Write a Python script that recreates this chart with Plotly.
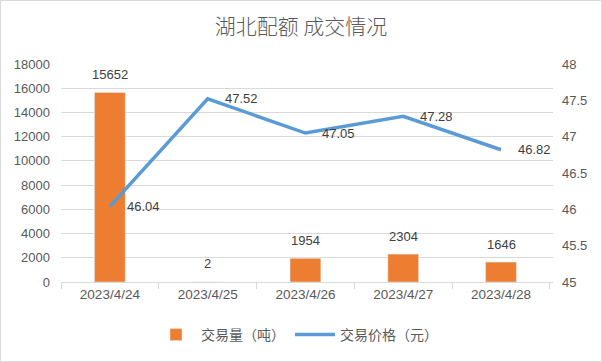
import plotly.graph_objects as go

dates = ["2023/4/24", "2023/4/25", "2023/4/26", "2023/4/27", "2023/4/28"]
volume = [15652, 2, 1954, 2304, 1646]
price = [46.04, 47.52, 47.05, 47.28, 46.82]
left_ticks = [0, 2000, 4000, 6000, 8000, 10000, 12000, 14000, 16000, 18000]
right_ticks = [45, 45.5, 46, 46.5, 47, 47.5, 48]

FONT = "Liberation Sans, Arial, Noto Sans CJK SC, sans-serif"
CJK = "Noto Sans CJK SC, sans-serif"
ORANGE = "#ED7D31"
BLUE = "#5B9BD5"
GRID = "#D9D9D9"
TXT = "#595959"
LBL = "#404040"

fig = go.Figure()
fig.add_trace(go.Bar(x=dates, y=volume, name="交易量（吨）", marker_color=ORANGE,
                     yaxis="y"))
fig.add_trace(go.Scatter(x=dates, y=price, name="交易价格（元）", mode="lines",
                         line=dict(color=BLUE, width=3.5), yaxis="y2"))

annotations = []
for d, v in zip(dates, volume):
    annotations.append(dict(x=d, y=v, xref="x", yref="y", text=str(v), showarrow=False,
                            xanchor="center", yanchor="middle", yshift=18,
                            font=dict(family=FONT, size=13, color=LBL)))
for d, p in zip(dates, price):
    annotations.append(dict(x=d, y=p, xref="x", yref="y2", text=f"{p:.2f}", showarrow=False,
                            xanchor="left", yanchor="middle", xshift=15,
                            font=dict(family=FONT, size=13, color=LBL)))

L, R, T, B = 61, 49, 64, 80
W, H = 602, 362
pw, ph = W - L - R, H - T - B

fig.update_layout(
    width=W, height=H,
    margin=dict(l=L, r=R, t=T, b=B, autoexpand=False),
    paper_bgcolor="white", plot_bgcolor="white",
    title=dict(text="湖北配额 成交情况", x=0.5, xanchor="center", y=1 - 27 / H, yanchor="middle",
               font=dict(family=CJK, size=21, color=TXT, weight=300)),
    bargap=0.685,
    showlegend=True,
    legend=dict(orientation="h", x=(297 - L) / pw, xanchor="center", y=-(335 - T - ph) / ph,
                yanchor="middle", font=dict(family=CJK, size=14, color=TXT),
                itemwidth=40, traceorder="normal"),
    xaxis=dict(type="category", showgrid=False, showline=True, linecolor=GRID, linewidth=1,
               ticks="outside", tickson="boundaries", ticklen=6, tickcolor=GRID,
               tickfont=dict(family=FONT, size=13.5, color=TXT)),
    yaxis=dict(range=[0, 18000], tickvals=left_ticks, ticktext=[str(v) for v in left_ticks],
               showgrid=True, gridcolor=GRID, gridwidth=1,
               zeroline=False, showline=False, ticks="", ticklabelstandoff=10,
               tickfont=dict(family=FONT, size=13, color=TXT)),
    yaxis2=dict(range=[45, 48], tickvals=right_ticks, ticktext=[f"{v:g}" for v in right_ticks],
                overlaying="y", side="right",
                showgrid=False, zeroline=False, showline=False, ticks="", ticklabelstandoff=8,
                tickfont=dict(family=FONT, size=13, color=TXT)),
    annotations=annotations,
    shapes=[dict(type="rect", xref="paper", yref="paper",
                 x0=-(L - 0.5) / pw, x1=(W - 0.5 - L) / pw,
                 y0=-(H - 0.5 - T - ph) / ph, y1=1 + (T - 0.5) / ph,
                 line=dict(color=GRID, width=1), fillcolor="rgba(0,0,0,0)", layer="below")],
)

fig.write_html("out.html", config={"displayModeBar": False})
with open("out.html", "r", encoding="utf-8") as f:
    html = f.read()
html = html.replace("<head>", "<head><style>html,body{margin:0;padding:0;overflow:hidden;}</style>", 1)
with open("out.html", "w", encoding="utf-8") as f:
    f.write(html)
